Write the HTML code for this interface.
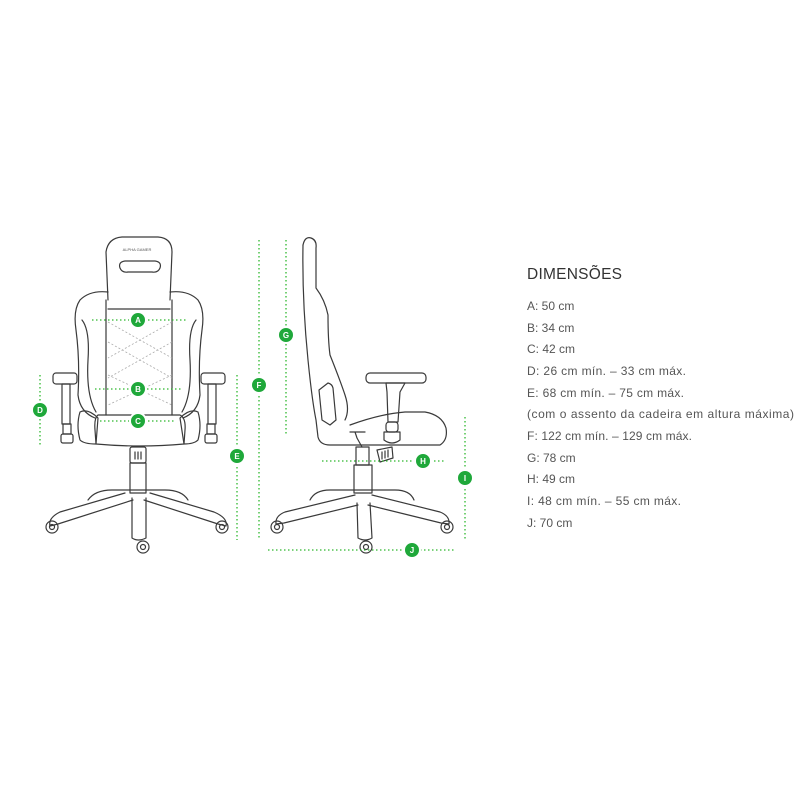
<!DOCTYPE html>
<html><head><meta charset="utf-8"><style>
html,body{margin:0;padding:0;background:#fff;}
svg{display:block}
</style></head><body>
<svg width="800" height="800" viewBox="0 0 800 800" xmlns="http://www.w3.org/2000/svg" font-family="Liberation Sans, sans-serif">
<rect width="800" height="800" fill="#fff"/>
<g fill="none" stroke="#3a3a3a" stroke-width="1.2" stroke-linejoin="round" stroke-linecap="round">
<!-- FRONT CHAIR -->
<!-- backrest -->
<path d="M108,300 L106,252 Q108,238 122,237 L158,237 Q172,238 172,252 L170,300"/>
<path d="M120,268 Q118,262 125,261 L155,261 Q162,262 160,268 Q158,273 152,272 L128,272 Q122,273 120,268Z"/>
<path d="M108,292 Q90,290 80,300 Q73,310 76,330 Q80,360 78,395 Q80,412 95,418"/>
<path d="M170,292 Q188,290 198,300 Q205,310 202,330 Q198,360 200,395 Q198,412 183,418"/>
<path d="M82,320 Q90,330 88,360 Q86,395 96,412"/>
<path d="M196,320 Q188,330 190,360 Q192,395 182,412"/>
<line x1="108" y1="309" x2="170" y2="309"/>
<line x1="106" y1="300" x2="106" y2="415"/>
<line x1="172" y1="300" x2="172" y2="415"/>
<!-- seat -->
<path d="M98,415 L180,415 Q186,418 185,430 L184,444 Q140,448 96,444 L95,430 Q94,418 98,415Z"/>
<path d="M80,412 Q88,408 98,418 L96,444 Q84,444 80,440 Q76,425 80,412Z"/>
<path d="M198,412 Q190,408 180,418 L184,444 Q194,444 198,440 Q202,425 198,412Z"/>
<!-- armrests -->
<rect x="53" y="373" width="24" height="11" rx="3"/>
<rect x="62" y="384" width="8" height="40"/>
<rect x="63" y="424" width="8" height="10"/>
<rect x="61" y="434" width="12" height="9" rx="2"/>
<rect x="201" y="373" width="24" height="11" rx="3"/>
<rect x="208" y="384" width="8" height="40"/>
<rect x="207" y="424" width="8" height="10"/>
<rect x="205" y="434" width="12" height="9" rx="2"/>
<!-- gas lift -->
<rect x="130" y="447" width="16" height="16" rx="2"/>
<line x1="135" y1="452" x2="135" y2="459"/><line x1="138" y1="452" x2="138" y2="459"/><line x1="141" y1="452" x2="141" y2="459"/>
<rect x="130" y="463" width="16" height="30"/>
<!-- base -->
<path d="M88,500 Q95,490 112,490 L165,490 Q182,490 188,500"/>
<path d="M125,493 L60,512 Q48,518 50,526 L58,524 L133,500"/>
<path d="M150,493 L214,512 Q228,518 226,526 L218,524 L144,500"/>
<path d="M132,498 L132,538 Q138,542 146,538 L146,498"/>
<circle cx="52" cy="527" r="6"/><circle cx="52" cy="527" r="2.5"/>
<circle cx="222" cy="527" r="6"/><circle cx="222" cy="527" r="2.5"/>
<circle cx="143" cy="547" r="6"/><circle cx="143" cy="547" r="2.5"/>

<!-- SIDE CHAIR -->
<path d="M303,245 Q305,236 311,238 Q317,240 316,248 L316,288 Q325,300 328,315 Q328,340 330,355 Q340,380 345,395 Q350,410 345,420"/>
<path d="M303,245 Q302,300 308,360 Q312,400 316,420 L318,437 Q320,445 330,445 L440,445 Q448,440 446,428 Q442,415 425,412 L405,412 Q380,414 350,425"/>
<path d="M319,390 L328,383 Q332,384 333,388 L336,420 L330,425 L322,420Z"/>
<!-- armrest side -->
<rect x="366" y="373" width="60" height="10" rx="4"/>
<path d="M386,383 L405,383 L400,392 L398,422 L388,422 L387,392Z"/>
<rect x="386" y="422" width="12" height="10" rx="3"/>
<path d="M384,432 L400,432 L400,440 Q392,446 384,440Z"/>
<!-- tilt mech -->
<path d="M350,432 L365,432 M355,432 L357,438 L362,447"/>
<path d="M377,450 L392,447 L393,458 L380,462Z"/>
<line x1="382" y1="452" x2="382" y2="459"/><line x1="385" y1="451" x2="385" y2="458"/><line x1="388" y1="450" x2="388" y2="457"/>
<!-- cylinder -->
<rect x="356" y="447" width="13" height="18"/>
<rect x="354" y="465" width="18" height="28"/>
<!-- base side -->
<path d="M310,500 Q315,490 330,490 L395,490 Q410,490 414,500"/>
<path d="M355,495 L285,512 Q275,516 276,524 L284,523 L358,505"/>
<path d="M372,495 L440,512 Q450,516 449,524 L441,523 L368,505"/>
<path d="M357,503 L358,538 Q365,542 372,538 L370,503"/>
<circle cx="277" cy="527" r="6"/><circle cx="277" cy="527" r="2.5"/>
<circle cx="447" cy="527" r="6"/><circle cx="447" cy="527" r="2.5"/>
<circle cx="366" cy="547" r="6"/><circle cx="366" cy="547" r="2.5"/>
</g>
<!-- X stitching -->
<g stroke="#aaa" stroke-width="0.8" stroke-dasharray="2,2" fill="none">
<path d="M108,322 L172,358 M172,322 L108,358 M108,342 L172,378 M172,342 L108,378 M108,375 L172,405 M172,375 L108,405"/>
</g>
<!-- dotted dimension lines -->
<g stroke="#2eb82e" stroke-width="1.3" stroke-dasharray="1.5,2.5" fill="none">
<line x1="92" y1="320" x2="188" y2="320"/>
<line x1="95" y1="389" x2="182" y2="389"/>
<line x1="100" y1="421" x2="176" y2="421"/>
<line x1="40" y1="375" x2="40" y2="447"/>
<line x1="237" y1="375" x2="237" y2="540"/>
<line x1="259" y1="240" x2="259" y2="540"/>
<line x1="286" y1="240" x2="286" y2="435"/>
<line x1="322" y1="461" x2="445" y2="461"/>
<line x1="465" y1="417" x2="465" y2="540"/>
<line x1="268" y1="550" x2="455" y2="550"/>
</g>
<g fill="#1fa83a" stroke="#fff" stroke-width="2">
<circle cx="138" cy="320" r="8"/><circle cx="138" cy="389" r="8"/><circle cx="138" cy="421" r="8"/>
<circle cx="40" cy="410" r="8"/><circle cx="237" cy="456" r="8"/><circle cx="259" cy="385" r="8"/>
<circle cx="286" cy="335" r="8"/><circle cx="423" cy="461" r="8"/><circle cx="465" cy="478" r="8"/>
<circle cx="412" cy="550" r="8"/>
</g>
<g fill="#fff" font-size="8" font-weight="bold" text-anchor="middle">
<text x="138" y="323">A</text><text x="138" y="392">B</text><text x="138" y="424">C</text>
<text x="40" y="413">D</text><text x="237" y="459">E</text><text x="259" y="388">F</text>
<text x="286" y="338">G</text><text x="423" y="464">H</text><text x="465" y="481">I</text>
<text x="412" y="553">J</text>
</g>
<text x="137" y="251" font-size="4" fill="#555" text-anchor="middle">ALPHA GAMER</text>
<!-- text -->
<text x="527" y="279" font-size="15.5" fill="#333" textLength="95">DIMENSÕES</text>
<g font-size="12" fill="#555">
<text x="527" y="310">A: 50 cm</text>
<text x="527" y="332">B: 34 cm</text>
<text x="527" y="353">C: 42 cm</text>
<text x="527" y="375" textLength="159">D: 26 cm mín. – 33 cm máx.</text>
<text x="527" y="397" textLength="157">E: 68 cm mín. – 75 cm máx.</text>
<text x="527" y="418" textLength="267">(com o assento da cadeira em altura máxima)</text>
<text x="527" y="440" textLength="165">F: 122 cm mín. – 129 cm máx.</text>
<text x="527" y="462">G: 78 cm</text>
<text x="527" y="483">H: 49 cm</text>
<text x="527" y="505" textLength="154">I: 48 cm mín. – 55 cm máx.</text>
<text x="527" y="527">J: 70 cm</text>
</g>
</svg>
</body></html>
